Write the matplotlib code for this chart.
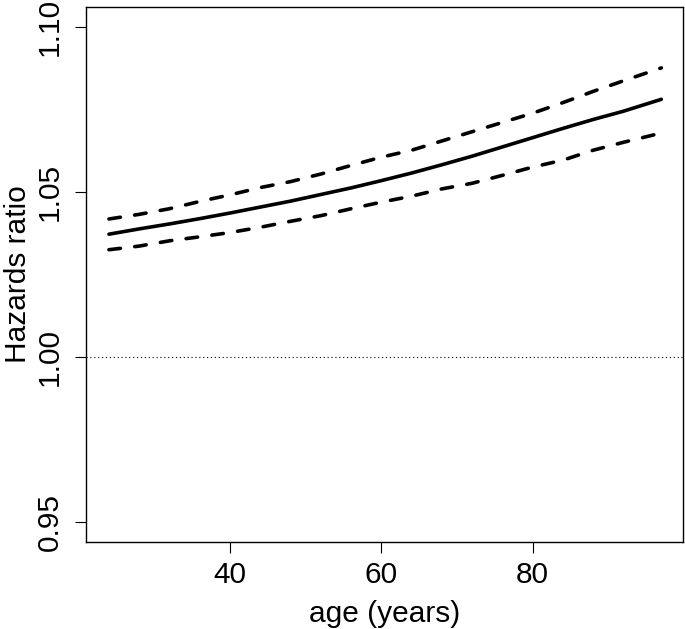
import matplotlib.pyplot as plt

plt.rcParams['font.family'] = ['Liberation Sans', 'DejaVu Sans']

# hazard ratio by age
age = [24, 28, 32, 36, 40, 44, 48, 52, 56, 60, 64, 68, 72, 76, 80, 84, 88, 92, 97]
hr = [1.0372, 1.0388, 1.0403, 1.0419, 1.0436, 1.0454, 1.0472, 1.0492, 1.0512, 1.0534,
      1.0557, 1.0582, 1.0608, 1.0636, 1.0664, 1.0692, 1.0719, 1.0744, 1.0780]
hr_upper = [1.0418, 1.0432, 1.0449, 1.0471, 1.0491, 1.0513, 1.0531, 1.0554, 1.0580, 1.0605,
            1.0626, 1.0654, 1.0682, 1.0710, 1.0738, 1.0770, 1.0804, 1.0836, 1.0875]
hr_lower = [1.0325, 1.0336, 1.0352, 1.0364, 1.0377, 1.0393, 1.0411, 1.0428, 1.0449, 1.0469,
            1.0487, 1.0509, 1.0526, 1.0550, 1.0575, 1.0596, 1.0626, 1.0650, 1.0678]

x_ticks = [40, 60, 80]
y_ticks = [0.95, 1.00, 1.05, 1.10]
y_ticklabels = ['0.95', '1.00', '1.05', '1.10']

fig = plt.figure(figsize=(6.85, 6.29), dpi=100)
ax = fig.add_axes([0.1251, 0.1378, 0.9966 - 0.1251, 0.9893 - 0.1378])

ax.plot(age, hr, color='black', lw=2.6, solid_capstyle='round')
for band in (hr_upper, hr_lower):
    ax.plot(age, band, color='black', lw=2.6, linestyle=(0, (3.2, 4.0)),
            dash_capstyle='round')
ax.axhline(1.0, color='black', lw=0.8, linestyle=(0, (1, 2.5)))

# R style limits: 4% padding
ax.set_xlim(20.93, 99.82)
ax.set_ylim(0.944, 1.106)

ax.set_xticks(x_ticks)
ax.set_yticks(y_ticks)
ax.set_yticklabels(y_ticklabels, rotation=90, va='center')
ax.tick_params(labelsize=21.5, length=7.7, width=0.8, pad=6)
ax.tick_params(axis='y', pad=8)
for s in ax.spines.values():
    s.set_linewidth(1.0)

ax.set_xlabel('age (years)', fontsize=21.5, labelpad=8)
ax.set_ylabel('Hazards ratio', fontsize=21.5, labelpad=3)

fig.savefig('out.png', dpi=100)
